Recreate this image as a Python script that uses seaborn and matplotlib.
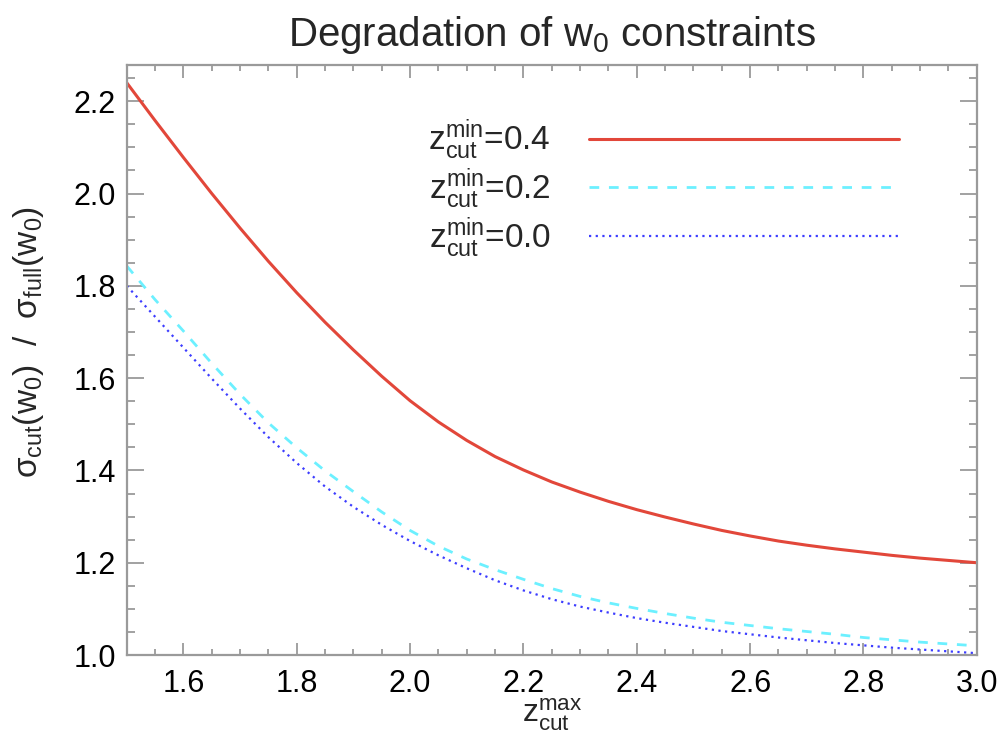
import matplotlib
matplotlib.use("Agg")
import matplotlib.pyplot as plt
import numpy as np
import pandas as pd
import seaborn as sns

# values
z_max = [1.50, 1.55, 1.60, 1.65, 1.70, 1.75, 1.80, 1.85, 1.90, 1.95,
         2.00, 2.05, 2.10, 2.15, 2.20, 2.25, 2.30, 2.35, 2.40, 2.45,
         2.50, 2.55, 2.60, 2.65, 2.70, 2.75, 2.80, 2.85, 2.90, 2.95, 3.00]
ratio_zmin04 = [2.240, 2.158, 2.078, 2.000, 1.925, 1.853, 1.785, 1.721, 1.661, 1.604,
                1.551, 1.505, 1.465, 1.430, 1.401, 1.375, 1.353, 1.333, 1.315, 1.299,
                1.284, 1.270, 1.258, 1.247, 1.238, 1.230, 1.223, 1.216, 1.210, 1.205, 1.200]
ratio_zmin02 = [1.843, 1.770, 1.702, 1.632, 1.565, 1.503, 1.449, 1.399, 1.354, 1.310,
                1.270, 1.236, 1.208, 1.185, 1.164, 1.144, 1.127, 1.113, 1.101, 1.090,
                1.080, 1.071, 1.064, 1.057, 1.051, 1.045, 1.038, 1.033, 1.028, 1.024, 1.020]
ratio_zmin00 = [1.800, 1.733, 1.666, 1.599, 1.534, 1.472, 1.416, 1.365, 1.321, 1.282,
                1.247, 1.216, 1.188, 1.162, 1.140, 1.121, 1.105, 1.092, 1.080, 1.070,
                1.061, 1.052, 1.045, 1.038, 1.032, 1.026, 1.021, 1.016, 1.012, 1.008, 1.004]
zmin_labels = ["0.4", "0.2", "0.0"]
x_ticks = [1.6, 1.8, 2.0, 2.2, 2.4, 2.6, 2.8, 3.0]
y_ticks = [1.0, 1.2, 1.4, 1.6, 1.8, 2.0, 2.2]

sns.set_theme(style="ticks")
plt.rcParams["font.family"] = ["Liberation Sans", "DejaVu Sans"]
plt.rcParams["mathtext.fontset"] = "custom"
plt.rcParams["mathtext.rm"] = "Liberation Sans"
plt.rcParams["mathtext.it"] = "Liberation Sans"

n = len(z_max)
df = pd.DataFrame({
    "z": z_max * 3,
    "ratio": ratio_zmin04 + ratio_zmin02 + ratio_zmin00,
    "zmin": [zmin_labels[0]] * n + [zmin_labels[1]] * n + [zmin_labels[2]] * n,
})

styles = {
    "0.4": dict(color="#e2473a", lw=2.2, ls="-"),
    "0.2": dict(color="#6cf0ff", lw=2.0, ls=(0, (3.5, 3.5))),
    "0.0": dict(color="#3d3dff", lw=1.6, ls=(0, (1, 2.0))),
}

fig = plt.figure(figsize=(10.06, 7.41), dpi=100)
ax = fig.add_axes([0.126, 0.116, 0.845, 0.796])

for lab in zmin_labels:
    sub = df[df["zmin"] == lab]
    st = styles[lab]
    sns.lineplot(data=sub, x="z", y="ratio", ax=ax, color=st["color"], lw=st["lw"],
                 linestyle=st["ls"], label=r"$\mathregular{z_{cut}^{min}}$=" + lab)

ax.set_xlim(1.5, 3.0)
ax.set_ylim(1.0, 2.278)
ax.set_xticks(x_ticks)
ax.set_xticklabels([f"{t:.1f}" for t in x_ticks])
ax.set_yticks(y_ticks)
ax.set_yticklabels([f"{t:.1f}" for t in y_ticks])
ax.set_xticks(np.arange(1.55, 3.0, 0.05), minor=True)
ax.set_yticks(np.arange(1.05, 2.28, 0.05), minor=True)

edge = "#9a9a9a"
for sp in ax.spines.values():
    sp.set_color(edge)
    sp.set_linewidth(1.6)
    sp.set_visible(True)
ax.tick_params(axis="both", which="both", direction="in", colors=edge,
               labelcolor="black", top=True, right=True, width=1.3)
ax.tick_params(axis="x", which="major", length=9, labelsize=22, pad=10)
ax.tick_params(axis="x", which="minor", length=4.5)
ax.tick_params(axis="y", which="major", length=12.5, labelsize=22, pad=8)
ax.tick_params(axis="y", which="minor", length=6)

ax.set_xlabel(r"$\mathregular{z_{cut}^{max}}$", fontsize=23, labelpad=-2)
ax.set_ylabel(r"$\mathregular{\sigma_{cut}(w_0)\ \ /\ \ \sigma_{full}(w_0)}$", fontsize=24)
ax.yaxis.set_label_coords(-0.095, 0.53)
ax.set_title(r"Degradation of w$_0$ constraints", fontsize=29, pad=14)

leg = ax.legend(loc="upper right", bbox_to_anchor=(0.944, 0.962), frameon=False,
                markerfirst=False, handlelength=9.3, handletextpad=1.15,
                labelspacing=0.12, fontsize=24)

fig.savefig("out.png", dpi=100)
